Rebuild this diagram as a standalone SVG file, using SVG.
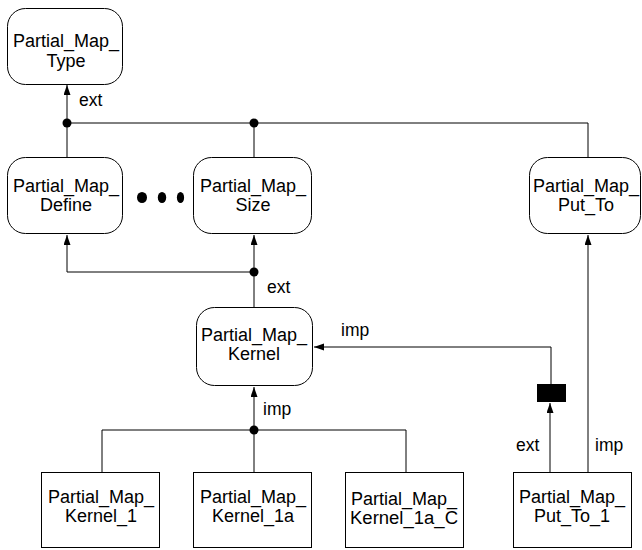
<svg xmlns="http://www.w3.org/2000/svg" width="642" height="550" viewBox="0 0 642 550">
<style>
.node{fill:#fff;stroke:#000;stroke-width:1}
.t{font-family:"Liberation Sans",Arial,sans-serif;font-size:18px;fill:#000;text-anchor:middle}
.lbl{font-family:"Liberation Sans",Arial,sans-serif;font-size:17.5px;fill:#000}
.c{fill:none;stroke:#000;stroke-width:1}
.dot{fill:#000}
</style>
<defs>
<marker id="arr" markerWidth="10" markerHeight="8" refX="10" refY="3.5" orient="auto" markerUnits="userSpaceOnUse">
<path d="M0,0 L10,3.5 L0,7 z" fill="#000"/>
</marker>
</defs>
<rect width="642" height="550" fill="#fff"/>
<g id="connectors">
<path class="c" d="M67,157 L67,85" marker-end="url(#arr)"/>
<path class="c" d="M67,123 L588,123 L588,157"/>
<path class="c" d="M254,157 L254,123"/>
<circle class="dot" cx="67" cy="123" r="4.5"/>
<circle class="dot" cx="254" cy="123" r="4.5"/>
<path class="c" d="M254,307 L254,235" marker-end="url(#arr)"/>
<path class="c" d="M254,272 L67,272 L67,235" marker-end="url(#arr)"/>
<circle class="dot" cx="254" cy="272" r="4.5"/>
<path class="c" d="M254,472 L254,387" marker-end="url(#arr)"/>
<path class="c" d="M102,472 L102,430 L406,430 L406,472"/>
<circle class="dot" cx="254" cy="430" r="4.5"/>
<path class="c" d="M550,472 L550,403" marker-end="url(#arr)"/>
<rect x="537" y="384" width="29" height="18" fill="#000"/>
<path class="c" d="M551,384 L551,347 L314,347" marker-end="url(#arr)"/>
<path class="c" d="M588,472 L588,235" marker-end="url(#arr)"/>
<ellipse class="dot" cx="142" cy="197.5" rx="5" ry="5.5"/>
<ellipse class="dot" cx="162" cy="197.5" rx="4.2" ry="5.5"/>
<ellipse class="dot" cx="180.5" cy="197.5" rx="3.6" ry="5.5"/>
<text class="lbl" x="79" y="106">ext</text>
<text class="lbl" x="267" y="293">ext</text>
<text class="lbl" x="341" y="336">imp</text>
<text class="lbl" x="263" y="415">imp</text>
<text class="lbl" x="516" y="451">ext</text>
<text class="lbl" x="595" y="451">imp</text>
</g>
<g id="type">
<rect class="node" x="7.5" y="8.5" width="115" height="76" rx="18" ry="18"/>
<text class="t" x="66" y="47">Partial_Map_</text>
<text class="t" x="66" y="67">Type</text>
</g>
<g id="define">
<rect class="node" x="7.5" y="157.5" width="115" height="76" rx="18" ry="18"/>
<text class="t" x="66" y="192">Partial_Map_</text>
<text class="t" x="66" y="211">Define</text>
</g>
<g id="size">
<rect class="node" x="193.5" y="157.5" width="118" height="76" rx="18" ry="18"/>
<text class="t" x="253" y="192">Partial_Map_</text>
<text class="t" x="253" y="211">Size</text>
</g>
<g id="putto">
<rect class="node" x="529.5" y="157.5" width="111" height="76" rx="18" ry="18"/>
<text class="t" x="586" y="192">Partial_Map_</text>
<text class="t" x="586" y="211">Put_To</text>
</g>
<g id="kernel">
<rect class="node" x="196.5" y="307.5" width="116" height="78" rx="18" ry="18"/>
<text class="t" x="254" y="341">Partial_Map_</text>
<text class="t" x="254" y="360">Kernel</text>
</g>
<g id="kernel1">
<rect class="node" x="41.5" y="472.5" width="118" height="75"/>
<text class="t" x="101" y="503">Partial_Map_</text>
<text class="t" x="101" y="522">Kernel_1</text>
</g>
<g id="kernel1a">
<rect class="node" x="193.5" y="472.5" width="118" height="75"/>
<text class="t" x="253" y="503">Partial_Map_</text>
<text class="t" x="253" y="522">Kernel_1a</text>
</g>
<g id="kernel1ac">
<rect class="node" x="345.5" y="472.5" width="118" height="75"/>
<text class="t" x="404" y="505">Partial_Map_</text>
<text class="t" x="404" y="524" textLength="108" lengthAdjust="spacingAndGlyphs">Kernel_1a_C</text>
</g>
<g id="putto1">
<rect class="node" x="513.5" y="472.5" width="118" height="75"/>
<text class="t" x="572" y="503">Partial_Map_</text>
<text class="t" x="572" y="522">Put_To_1</text>
</g>
</svg>
